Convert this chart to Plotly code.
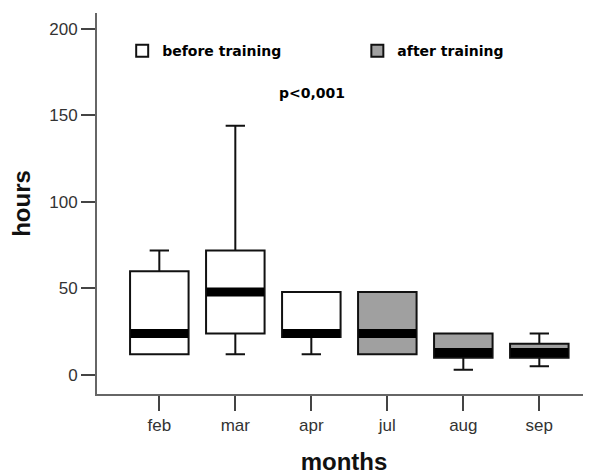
import plotly.graph_objects as go

months_before = ["feb", "mar", "apr"]
months_after = ["jul", "aug", "sep"]
all_months = months_before + months_after

before_min = [12, 12, 12]
before_q1 = [12, 24, 22]
before_median = [24, 48, 24]
before_q3 = [60, 72, 48]
before_max = [72, 144, 48]

after_min = [12, 3, 5]
after_q1 = [12, 10, 10]
after_median = [24, 13, 13]
after_q3 = [48, 24, 18]
after_max = [48, 24, 24]

y_ticks = [0, 50, 100, 150, 200]

LINE = "#111111"
GRAY = "#a0a0a0"
FONT = "Liberation Sans"
BOLD_FONT = "DejaVu Sans"

fig = go.Figure()

fig.add_trace(go.Box(
    name="before training", x=months_before,
    q1=before_q1, median=before_median, q3=before_q3,
    lowerfence=before_min, upperfence=before_max,
    fillcolor="white", line=dict(color=LINE, width=2),
    width=0.77, whiskerwidth=0.33, boxpoints=False, hoverinfo="skip",
    legend="legend",
))
fig.add_trace(go.Box(
    name="after training", x=months_after,
    q1=after_q1, median=after_median, q3=after_q3,
    lowerfence=after_min, upperfence=after_max,
    fillcolor=GRAY, line=dict(color=LINE, width=2),
    width=0.77, whiskerwidth=0.33, boxpoints=False, hoverinfo="skip",
    legend="legend2",
))

# thick median bands
fig.add_trace(go.Scatter(
    x=all_months, y=before_median + after_median, mode="markers",
    marker=dict(symbol="line-ew", size=41, line=dict(width=9, color="black")),
    showlegend=False, hoverinfo="skip",
))

fig.add_annotation(
    text="<b>p<0,001</b>", xref="paper", yref="paper", x=0.435, y=0.817,
    showarrow=False, font=dict(family=BOLD_FONT, size=14, color="black"),
)

legend_style = dict(
    orientation="h", y=0.900, xanchor="left", yanchor="middle",
    font=dict(family=BOLD_FONT, size=14, color="black", weight="bold"),
    bgcolor="rgba(0,0,0,0)",
)

fig.update_layout(
    width=591, height=474,
    margin=dict(l=89, r=8, t=5, b=88),
    paper_bgcolor="white", plot_bgcolor="white",
    showlegend=True,
    legend=dict(x=0.051, **legend_style),
    legend2=dict(x=0.527, **legend_style),
    xaxis=dict(
        type="category", categoryorder="array", categoryarray=all_months,
        range=[-0.82, 5.68], showgrid=False, zeroline=False, automargin=False,
        showline=True, linecolor="#666666", linewidth=2,
        ticks="outside", ticklen=15, tickwidth=2, tickcolor="#444444",
        tickfont=dict(family=FONT, size=17, color="#333333"),
        title=dict(text="<b>months</b>", font=dict(family=FONT, size=24, color="#111111"), standoff=19),
    ),
    yaxis=dict(
        range=[-11, 209.2], tickvals=y_ticks, showgrid=False, zeroline=False, automargin=False,
        showline=True, linecolor="#666666", linewidth=2,
        ticks="outside", ticklen=14, tickwidth=2, tickcolor="#444444",
        tickfont=dict(family=FONT, size=17, color="#333333"),
        title=dict(text="<b>hours</b>", font=dict(family=FONT, size=24, color="#111111"), standoff=16),
    ),
)

fig.write_html("out.html")
